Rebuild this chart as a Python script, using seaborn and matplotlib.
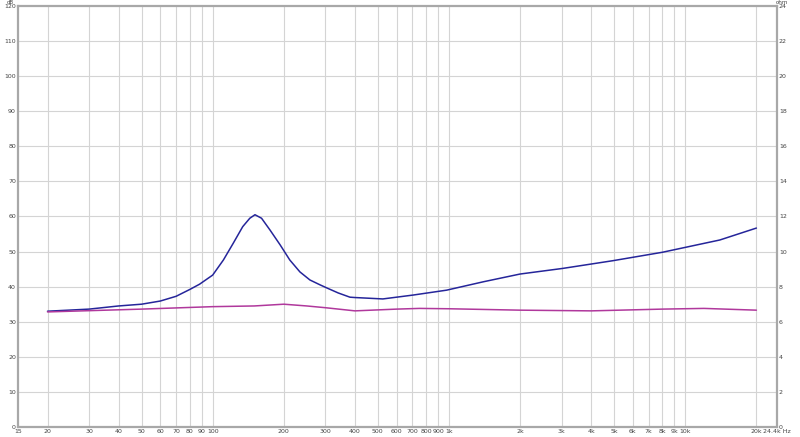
import numpy as np
import pandas as pd
import matplotlib
matplotlib.use('Agg')
import matplotlib.pyplot as plt
from matplotlib.ticker import FixedLocator, NullLocator, FixedFormatter
import seaborn as sns

# ── Data (impedance in ohm) ──────────────────────────────────────────────────
freq_blue = [20, 30, 40, 50, 60, 70, 80, 88, 100, 111, 122, 134, 143.6, 151,
             161, 175, 193, 212, 234, 258, 285, 305, 340, 381, 400, 525, 704,
             977, 1400, 2000, 3030, 4940, 8000, 14000, 20000]
ohm_blue = [6.60, 6.72, 6.90, 7.00, 7.18, 7.45, 7.84, 8.14, 8.66, 9.52, 10.46,
            11.42, 11.90, 12.10, 11.90, 11.22, 10.38, 9.52, 8.84, 8.38, 8.10,
            7.92, 7.64, 7.40, 7.38, 7.30, 7.52, 7.80, 8.28, 8.72, 9.04, 9.48,
            9.96, 10.66, 11.34]

freq_mag = [20, 50, 100, 150, 200, 250, 300, 400, 600, 750, 1000, 2000,
            4000, 8000, 12000, 20000]
ohm_mag = [6.56, 6.72, 6.86, 6.90, 7.00, 6.90, 6.80, 6.62, 6.72, 6.76, 6.74,
           6.66, 6.62, 6.72, 6.76, 6.66]

grid_freqs = [20, 30, 40, 50, 60, 70, 80, 90, 100, 200, 300, 400, 500, 600,
              700, 800, 900, 1000, 2000, 3000, 4000, 5000, 6000, 7000, 8000,
              9000, 10000, 20000]
xtick_freqs = [15] + grid_freqs + [24400]
xtick_labels = ['15', '20', '30', '40', '50', '60', '70', '80', '90', '100',
                '200', '300', '400', '500', '600', '700', '800', '900', '1k',
                '2k', '3k', '4k', '5k', '6k', '7k', '8k', '9k', '10k', '20k',
                '24.4k Hz']
db_ticks = list(range(0, 121, 10))
ohm_ticks = list(range(0, 25, 2))

df = pd.concat([
    pd.DataFrame({'freq': freq_blue, 'ohm': ohm_blue, 'trace': 'blue'}),
    pd.DataFrame({'freq': freq_mag, 'ohm': ohm_mag, 'trace': 'mag'}),
])

sns.set_style('white')
plt.rcParams['font.family'] = ['DejaVu Sans']

fig = plt.figure(figsize=(8, 4.37), dpi=100)
ax = fig.add_axes([0.0225, 0.0229, 0.9485, 0.9634])
ax.set_xscale('log')
ax.set_xlim(15, 24400)
ax.set_ylim(0, 120)

# grid
for f in grid_freqs:
    ax.axvline(f, color='#d4d4d4', lw=0.8, zorder=0)
for d in db_ticks[1:-1]:
    ax.axhline(d, color='#d4d4d4', lw=0.8, zorder=0)

ax2 = ax.twinx()
palette = {'blue': '#25259a', 'mag': '#b0389c'}
sns.lineplot(data=df, x='freq', y='ohm', hue='trace', palette=palette,
             ax=ax2, lw=1.1, legend=False, sort=False)
ax2.set_xlim(15, 24400)
ax2.set_ylim(0, 24)
ax2.set_yticks(ohm_ticks)
ax2.set_xlabel('')
ax2.set_ylabel('')
ax2.tick_params(axis='y', labelsize=4.5, colors='#444444', length=0, pad=1.5)
for s in ax2.spines.values():
    s.set_visible(False)

# x ticks after plotting so the shared log axis keeps them
ax.xaxis.set_major_locator(FixedLocator(xtick_freqs))
ax.xaxis.set_major_formatter(FixedFormatter(xtick_labels))
ax.xaxis.set_minor_locator(NullLocator())
ax.set_yticks(db_ticks)
ax.set_xlabel('')
ax.set_ylabel('')
ax.tick_params(axis='both', labelsize=4.5, colors='#444444', length=0, pad=1.5)
for s in ax.spines.values():
    s.set_color('#a8a8a8')
    s.set_linewidth(1.6)

fig.text(0.0135, 1.0, 'dB', fontsize=4, color='#444444', ha='center', va='top')
fig.text(0.978, 1.0, 'ohm', fontsize=4, color='#444444', ha='center', va='top')

fig.savefig('out.png', dpi=100)
